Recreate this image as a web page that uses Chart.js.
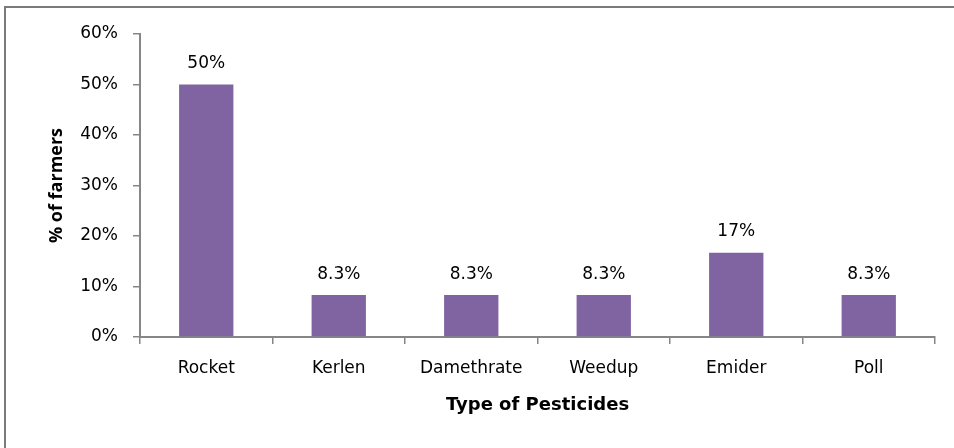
<!DOCTYPE html>
<html>
<head>
<meta charset="utf-8">
<script src="https://cdn.jsdelivr.net/npm/chart.js@4"></script>
<style>
  html, body { margin: 0; padding: 0; background: #fff; }
  #wrap { position: relative; width: 954px; height: 448px; overflow: hidden; }
  #frame { position: absolute; left: 4px; top: 6px; width: 1000px; height: 1000px;
           border-top: 2px solid #7a7a7a; border-left: 2px solid #7a7a7a; pointer-events: none; }
</style>
</head>
<body>
<div id="wrap">
  <canvas id="myChartBar" width="954" height="448"></canvas>
  <div id="frame"></div>
</div>
<script>
const ctxBar = document.getElementById('myChartBar');

// values
const pesticides = ['Rocket', 'Kerlen', 'Damethrate', 'Weedup', 'Emider', 'Poll'];
const farmers = [50, 8.3, 8.3, 8.3, 16.7, 8.3];
const barLabels = ['50%', '8.3%', '8.3%', '8.3%', '17%', '8.3%'];
const yTicks = [0, 10, 20, 30, 40, 50, 60];

const fontName = "'DejaVu Sans', 'Open Sans', sans-serif";
const axisGrey = '#868686';

// draws the value text above each bar
const barValues = {
    id: 'barValues',
    afterDatasetsDraw(chart) {
        const ctx = chart.ctx;
        const meta = chart.getDatasetMeta(0);
        ctx.save();
        ctx.font = '17px ' + fontName;
        ctx.fillStyle = '#000';
        ctx.textAlign = 'center';
        ctx.textBaseline = 'middle';
        meta.data.forEach((bar, i) => {
            ctx.fillText(barLabels[i], bar.x, bar.y - 21);
        });
        ctx.restore();
    }
};

new Chart(ctxBar, {
    type: 'bar',
    data: {
        labels: pesticides,
        datasets: [{
            data: farmers,
            backgroundColor: '#8064A2',
            borderWidth: 0,
            categoryPercentage: 1,
            barPercentage: 0.41
        }]
    },
    options: {
        responsive: false,
        animation: false,
        events: [],
        layout: { padding: { left: 34, top: 34, right: 19, bottom: 0 } },
        plugins: {
            legend: { display: false },
            tooltip: { enabled: false }
        },
        scales: {
            x: {
                afterFit(scale) { scale.height = 111; },
                grid: { drawOnChartArea: false, tickLength: 7, color: axisGrey, lineWidth: 1.5 },
                border: { color: axisGrey, width: 2 },
                ticks: { color: '#000', font: { family: fontName, size: 17 }, padding: 14, maxRotation: 0 },
                title: {
                    display: true,
                    text: 'Type of Pesticides',
                    color: '#000',
                    font: { family: fontName, size: 18, weight: 'bold' },
                    padding: { top: 0, bottom: 32 }
                }
            },
            y: {
                min: 0,
                max: 60,
                afterFit(scale) { scale.width = 106; },
                afterBuildTicks(scale) { scale.ticks = yTicks.map(v => ({ value: v })); },
                grid: { drawOnChartArea: false, tickLength: 7, color: axisGrey, lineWidth: 1.5 },
                border: { color: axisGrey, width: 2 },
                ticks: {
                    color: '#000',
                    font: { family: fontName, size: 17 },
                    padding: 15,
                    callback: v => v + '%'
                },
                title: {
                    display: true,
                    text: '% of farmers',
                    color: '#000',
                    font: { family: "'Open Sans', sans-serif", size: 18, weight: 'bold' },
                    padding: { top: 12, bottom: 0 }
                }
            }
        }
    },
    plugins: [barValues]
});
</script>
</body>
</html>
